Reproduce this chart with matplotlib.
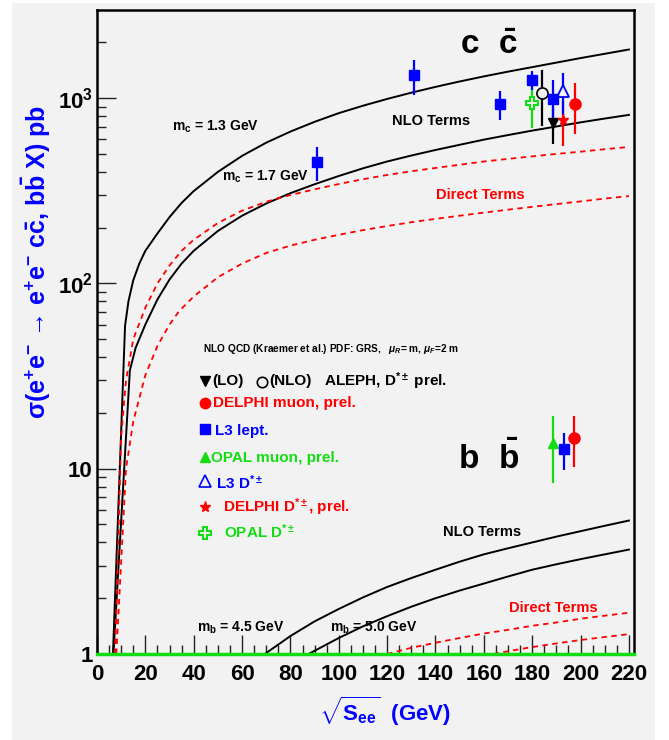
import matplotlib
matplotlib.use('Agg')
import matplotlib.pyplot as plt
from matplotlib.patches import Rectangle
from matplotlib.ticker import FixedLocator, FixedFormatter, MultipleLocator, NullFormatter

plt.rcParams['font.family'] = ['Liberation Sans', 'DejaVu Sans']
plt.rcParams['font.weight'] = 'bold'
plt.rcParams['mathtext.fontset'] = 'custom'
plt.rcParams['mathtext.rm'] = 'Liberation Sans'
plt.rcParams['mathtext.it'] = 'Liberation Sans:italic'
plt.rcParams['mathtext.bf'] = 'Liberation Sans:bold'

# ---- theory curves ----
# c cbar, NLO terms, m_c = 1.3 and 1.7 GeV
cc_nlo13_x = [6.6, 11.6, 13, 15, 17.5, 20, 25, 30, 35, 40, 50, 60, 70, 80, 90, 100, 110, 120,
              130, 140, 150, 160, 170, 180, 190, 200, 210, 220]
cc_nlo13_y = [1, 59, 80, 104, 128, 150, 186, 228, 272, 315, 400, 488, 575, 660, 745, 830, 910, 990,
              1070, 1150, 1230, 1310, 1390, 1470, 1555, 1645, 1735, 1830]
cc_nlo17_x = [6.8, 13.6, 16, 20, 25, 30, 35, 40, 50, 60, 70, 80, 90, 100, 110, 120, 130, 140,
              150, 160, 170, 180, 190, 200, 210, 220]
cc_nlo17_y = [1, 34, 45, 60, 82, 105, 128, 150, 192, 232, 270, 307, 343, 380, 418, 455, 490, 525,
              560, 597, 632, 668, 703, 740, 776, 812]
# c cbar, direct terms
cc_dir13_x = [7.5, 10, 12, 15, 20, 25, 30, 35, 40, 50, 60, 70, 80, 90, 100, 110, 120, 130, 140,
              150, 160, 170, 180, 190, 200, 210, 220]
cc_dir13_y = [1, 15, 30, 50, 74, 100, 125, 150, 172, 212, 247, 276, 300, 322, 344, 365, 385, 403, 420,
              437, 455, 470, 485, 500, 514, 530, 545]
cc_dir17_x = [8, 12, 15, 20, 25, 30, 34, 40, 50, 60, 70, 80, 90, 100, 110, 120, 130, 140, 150,
              160, 170, 180, 190, 200, 210, 220]
cc_dir17_y = [1, 10, 18, 32, 46, 60, 71, 85, 108, 128, 146, 160, 172, 183, 194, 204, 214, 223, 232,
              241, 250, 259, 268, 277, 287, 296]
# b bbar, NLO terms, m_b = 4.5 and 5.0 GeV
bb_nlo45_x = [69.4, 80, 90, 100, 110, 120, 130, 140, 150, 160, 170, 180, 190, 200, 210, 220]
bb_nlo45_y = [1, 1.25, 1.5, 1.75, 2.02, 2.3, 2.57, 2.85, 3.15, 3.45, 3.72, 4.0, 4.3, 4.6, 4.92, 5.25]
bb_nlo50_x = [87.5, 100, 110, 120, 130, 140, 150, 160, 170, 180, 190, 200, 210, 220]
bb_nlo50_y = [1, 1.22, 1.41, 1.6, 1.8, 2.0, 2.2, 2.4, 2.62, 2.85, 3.05, 3.25, 3.45, 3.66]
# b bbar, direct terms
bb_dir45_x = [120, 130, 140, 150, 160, 170, 180, 190, 200, 210, 220]
bb_dir45_y = [1, 1.08, 1.15, 1.22, 1.29, 1.35, 1.42, 1.48, 1.55, 1.61, 1.67]
bb_dir50_x = [164, 170, 180, 190, 200, 210, 220]
bb_dir50_y = [1, 1.035, 1.09, 1.14, 1.19, 1.235, 1.28]

# ---- measurements ----
l3_lept_x = [91, 131, 166.7, 179.8, 188.5, 193]
l3_lept_y = [452, 1328, 924, 1259, 995, 12.7]
l3_lept_e = [93, 283, 163, 150, 260, 2.8]

aleph_lo_x, aleph_lo_y, aleph_lo_e = [188.5], [735], [166]
aleph_nlo_x, aleph_nlo_y, aleph_nlo_e = [184.2], [1067], [356]
delphi_mu_x = [197.7, 197.3]
delphi_mu_y = [924, 14.7]
delphi_mu_e = [280, 4.5]
opal_mu_x, opal_mu_y, opal_mu_e = [188.7], [13.8], [5.4]
l3_dst_x, l3_dst_y, l3_dst_e = [192.9], [1089], [283]
delphi_dst_x, delphi_dst_y, delphi_dst_e = [192.9], [761], [210]
opal_dst_x, opal_dst_y, opal_dst_e = [179.8], [942], [255]

BLUE = '#0000ff'
RED = '#ff0000'
GREEN = '#11dd11'
BG = '#f2f2f2'


def axp(px, py):
    # pixel of the 669x740 picture -> axes fraction
    return ((px - 97) / 537.0, (654 - py) / 644.0)


fig = plt.figure(figsize=(6.69, 7.40), dpi=100)
fig.patch.set_facecolor('white')
fig.add_artist(Rectangle((12 / 669, 0), 643 / 669, 737 / 740, transform=fig.transFigure,
                         facecolor=BG, edgecolor='none', zorder=-10))
ax = fig.add_axes([97 / 669, 86 / 740, 537 / 669, 644 / 740])
ax.set_facecolor(BG)
ax.set_yscale('log')
ax.set_xlim(0, 222.1)
ax.set_ylim(1, 2990)

for x, y in [(cc_nlo13_x, cc_nlo13_y), (cc_nlo17_x, cc_nlo17_y),
             (bb_nlo45_x, bb_nlo45_y), (bb_nlo50_x, bb_nlo50_y)]:
    ax.plot(x, y, color='black', lw=1.4, zorder=3)
for x, y in [(cc_dir13_x, cc_dir13_y), (cc_dir17_x, cc_dir17_y),
             (bb_dir45_x, bb_dir45_y), (bb_dir50_x, bb_dir50_y)]:
    ax.plot(x, y, color=RED, lw=1.3, ls=(0, (3, 2.5)), zorder=3)

# green zero line along the bottom
ax.plot([0, 222.1], [1, 1], color=GREEN, lw=2.5, clip_on=False, zorder=6)

eb = dict(capsize=0, elinewidth=1.6, ls='none', zorder=5)
ax.errorbar(opal_dst_x, opal_dst_y, yerr=opal_dst_e, fmt='P', color=GREEN, mfc=BG,
            mec=GREEN, mew=1.5, ms=9, **eb)
ax.errorbar(aleph_nlo_x, aleph_nlo_y, yerr=aleph_nlo_e, fmt='o', color='black', mfc=BG,
            mew=1.2, ms=8, **eb)
ax.errorbar(aleph_lo_x, aleph_lo_y, yerr=aleph_lo_e, fmt='v', color='black', ms=7, **eb)
ax.errorbar(delphi_dst_x, delphi_dst_y, yerr=delphi_dst_e, fmt='*', color=RED, ms=8, **eb)
ax.errorbar(l3_dst_x, l3_dst_y, yerr=l3_dst_e, fmt='^', color=BLUE, mfc=BG, mew=1.3, ms=8, **eb)
ax.errorbar(opal_mu_x, opal_mu_y, yerr=opal_mu_e, fmt='^', color=GREEN, ms=7, **eb)
ax.errorbar(l3_lept_x, l3_lept_y, yerr=l3_lept_e, fmt='s', color=BLUE, ms=7, **eb)
ax.errorbar(delphi_mu_x, delphi_mu_y, yerr=delphi_mu_e, fmt='o', color=RED, ms=8, **eb)

# axes styling
for s in ax.spines.values():
    s.set_linewidth(1.8)
ax.xaxis.set_major_locator(MultipleLocator(20))
ax.xaxis.set_minor_locator(MultipleLocator(5))
ax.yaxis.set_major_locator(FixedLocator([1, 10, 100, 1000]))
ax.yaxis.set_major_formatter(FixedFormatter(['1', '10', r'$\mathbf{10^{2}}$', r'$\mathbf{10^{3}}$']))
ax.yaxis.set_minor_locator(FixedLocator([m * d for d in [1, 10, 100, 1000] for m in range(2, 10)]))
ax.yaxis.set_minor_formatter(NullFormatter())
ax.tick_params(which='both', direction='in', top=False, right=False, width=1, color='#222222')
ax.tick_params(which='major', length=13.5, labelsize=16)
ax.tick_params(which='minor', length=6.5)
ax.tick_params(axis='x', which='major', pad=7)
ax.tick_params(axis='y', which='major', pad=3)
for lab in ax.get_xticklabels() + ax.get_yticklabels():
    lab.set_fontweight('bold')

ylab = (r'σ(e$^{\mathbf{+}}$e$^{\mathbf{-}}$ → e$^{\mathbf{+}}$e$^{\mathbf{-}}$ c$\mathbf{\bar{c}}$, '
        r'b$\mathbf{\bar{b}}$ X) pb')
ax.text(*axp(36, 105), ylab, transform=ax.transAxes, rotation=90, ha='center', va='top',
        color=BLUE, fontsize=18, fontweight='bold')
ax.text(*axp(319, 711), r'$\mathbf{\sqrt{S_{ee}}}$  (GeV)', transform=ax.transAxes,
        ha='left', va='center', color=BLUE, fontsize=16, fontweight='bold')

# labels on the plot
tx = dict(transform=ax.transAxes, ha='left', va='center', fontweight='bold')
ax.text(*axp(460, 45), r'$\mathbf{c\ \ \bar{c}}$', fontsize=24, **tx)
ax.text(*axp(458, 458), r'$\mathbf{b\ \ \bar{b}}$', fontsize=24, **tx)
ax.text(*axp(392, 121), 'NLO Terms', fontsize=10.5, **tx)
ax.text(*axp(443, 532), 'NLO Terms', fontsize=10.5, **tx)
ax.text(*axp(436, 195), 'Direct Terms', fontsize=10.5, color=RED, **tx)
ax.text(*axp(509, 608), 'Direct Terms', fontsize=10.5, color=RED, **tx)
ax.text(*axp(172, 127), r'm$_{\mathbf{c}}$ = 1.3 GeV', fontsize=10, **tx)
ax.text(*axp(222, 177), r'm$_{\mathbf{c}}$ = 1.7 GeV', fontsize=10, **tx)
ax.text(*axp(197, 628), r'm$_{\mathbf{b}}$ = 4.5 GeV', fontsize=10, **tx)
ax.text(*axp(330, 628), r'm$_{\mathbf{b}}$ = 5.0 GeV', fontsize=10, **tx)

# legend block
ax.text(*axp(203, 349), r'NLO QCD (Kraemer et al.) PDF: GRS,   $\mu_{R}$= m, $\mu_{F}$=2 m',
        fontsize=7.3, **tx)
mk = dict(transform=ax.transAxes, clip_on=False, ls='none')
ax.plot(*axp(205, 381), marker='v', color='black', ms=7, **mk)
ax.text(*axp(212, 381), '(LO)', fontsize=11, **tx)
ax.plot(*axp(262, 382), marker='o', mfc='none', mec='black', mew=1.2, ms=7.5, **mk)
ax.text(*axp(269, 381), '(NLO)', fontsize=11, **tx)
ax.text(*axp(324, 381), r'ALEPH, D$^{*\pm}$ prel.', fontsize=11, **tx)
ax.plot(*axp(205, 403), marker='o', color=RED, ms=7.5, **mk)
ax.text(*axp(213, 403), 'DELPHI muon, prel.', fontsize=11, color=RED, **tx)
ax.plot(*axp(205, 429), marker='s', color=BLUE, ms=7, **mk)
ax.text(*axp(215, 431), 'L3 lept.', fontsize=11, color=BLUE, **tx)
ax.plot(*axp(205, 457), marker='^', color=GREEN, ms=7, **mk)
ax.text(*axp(211, 458), 'OPAL muon, prel.', fontsize=11, color=GREEN, **tx)
ax.plot(*axp(205, 481), marker='^', mfc='none', mec=BLUE, mew=1.2, ms=8, **mk)
ax.text(*axp(216, 483), r'L3 D$^{*\pm}$', fontsize=11, color=BLUE, **tx)
ax.plot(*axp(205, 507), marker='*', color=RED, ms=8, **mk)
ax.text(*axp(223, 507), r'DELPHI D$^{*\pm}$, prel.', fontsize=11, color=RED, **tx)
ax.plot(*axp(205, 533), marker='P', mfc='none', mec=GREEN, mew=1.5, ms=9, **mk)
ax.text(*axp(224, 532), r'OPAL D$^{*\pm}$', fontsize=11, color=GREEN, **tx)

fig.savefig('out.png', dpi=100, facecolor=fig.get_facecolor())
